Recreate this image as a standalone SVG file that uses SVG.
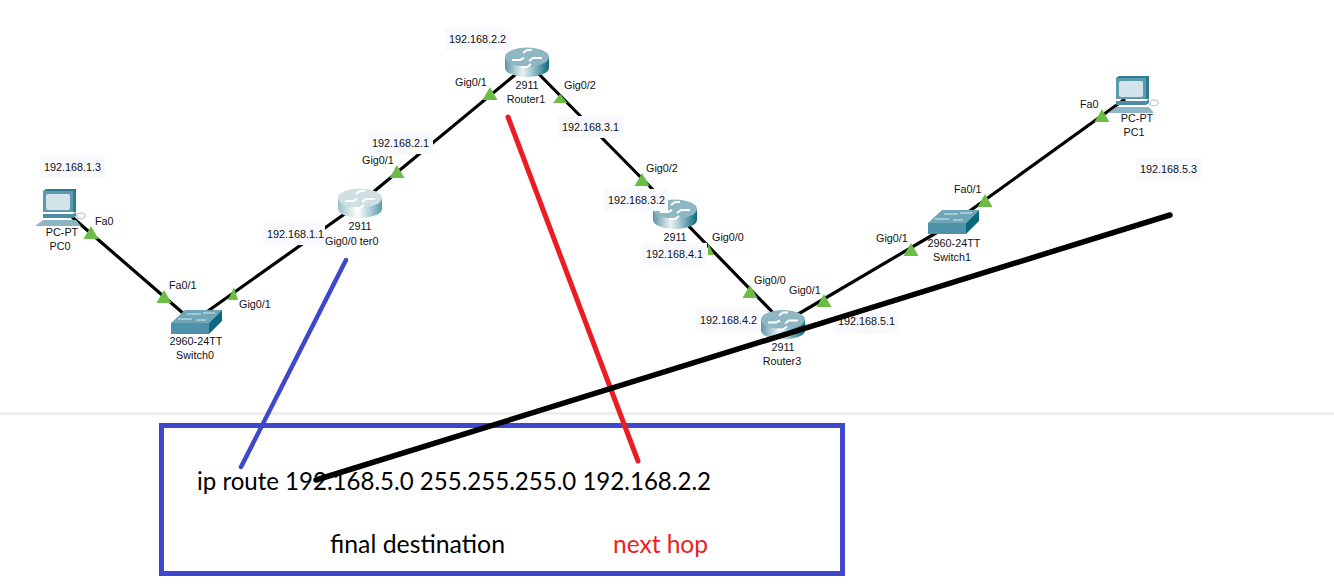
<svg xmlns="http://www.w3.org/2000/svg" xmlns:xlink="http://www.w3.org/1999/xlink" width="1334" height="584" viewBox="0 0 1334 584">
<style>
text{font-family:"Liberation Sans",Arial,sans-serif;font-size:10.8px;fill:#111}
.c{text-anchor:middle}
.link{stroke:#000;stroke-width:3.2;fill:none}
.lab{fill:#f8f8ff}
.big{font-family:Lato,"Open Sans",sans-serif;font-size:25.5px;fill:#000}
.note{fill:none;stroke-linecap:round}
</style>
<defs>
<linearGradient id="rg" x1="0" x2="1" y1="0" y2="0"><stop offset="0" stop-color="#5f96a6"/><stop offset=".4" stop-color="#e8f2f4"/><stop offset=".6" stop-color="#a8c8d2"/><stop offset="1" stop-color="#0c6a80"/></linearGradient>
<linearGradient id="rgl" x1="0" x2="1" y1="0" y2="0"><stop offset="0" stop-color="#9cc0ca"/><stop offset=".45" stop-color="#ffffff"/><stop offset="1" stop-color="#5c9cac"/></linearGradient>
<g id="arrows"><path d="M-15 -1h8l4 -2M15 -3h-9l-4 3M-4 -8l4 -3h5M4 3l-4 3h-6" fill="none" stroke="#fff" stroke-width="2"/></g>
<symbol id="router" overflow="visible"><path d="M-22 -5V6A22 9 0 0 0 22 6V-5Z" fill="url(#rg)"/><ellipse cx="0" cy="-5" rx="22" ry="9.5" fill="#8fb6c3"/><use href="#arrows" y="-1"/></symbol>
<symbol id="routerl" overflow="visible"><path d="M-22 -5V6A22 9 0 0 0 22 6V-5Z" fill="url(#rgl)"/><ellipse cx="0" cy="-5" rx="22" ry="9.5" fill="#cfdfe4"/><use href="#arrows" y="-1"/></symbol>
<symbol id="switch" overflow="visible"><path d="M-11 -13H26L13 0H-25Z" fill="#6ea6b8"/><path d="M-25 0H13V11H-25Z" fill="#4e92a9"/><path d="M13 0L26 -13V-2L13 11Z" fill="#0a6880"/><path d="M-9 -9h14M7 -10h12M-18 -4h14M0 -3h10" stroke="#dce9ee" stroke-width="1" fill="none"/></symbol>
<symbol id="pc" overflow="visible"><path d="M-17 -24L-14 -26H16V-3H-17Z" fill="#2f7c92"/><path d="M-17 -24H13V-3H-17Z" fill="#5d9aae"/><rect x="-14" y="-21" width="24" height="16" rx="2" fill="#d2e3ea"/><path d="M-17 -1H13L16 -3V1L13 3H-17Z" fill="#4c8ca2"/><path d="M-17 5H16L21 11H-25Z" fill="#8db6c4"/><path d="M17 0a4 3 0 0 1 8 2l-3 2-5 -1Z" fill="#fff" stroke="#7fb3c3" stroke-width=".8"/></symbol>
<symbol id="tri" overflow="visible"><path d="M0 -13L7.500 0H-7.500Z" fill="#6cbd45"/></symbol>
</defs>
<rect width="1334" height="584" fill="#fff"/>
<rect x="0" y="412" width="1334" height="3" fill="#eeeeee"/>
<g id="connectors">
<line class="link" x1="72" y1="217" x2="184" y2="314"/>
<line class="link" x1="208" y1="311" x2="360" y2="203"/>
<line class="link" x1="360" y1="203" x2="527" y2="65"/>
<line class="link" x1="527" y1="62" x2="675" y2="212"/>
<line class="link" x1="675" y1="212" x2="783" y2="323"/>
<line class="link" x1="783" y1="323" x2="953" y2="223"/>
<line class="link" x1="953" y1="223" x2="1125" y2="99"/>
</g>
<g id="link-lights">
<use href="#tri" x="91" y="239"/><use href="#tri" x="164" y="303"/>
<path d="M234 287L238 300H228Z" fill="#6cbd45"/>
<use href="#tri" x="397" y="178"/><use href="#tri" x="490" y="100"/>
<path d="M560 94L567.500 103H553Z" fill="#6cbd45"/>
<use href="#tri" x="642" y="186"/>
<path d="M708 243L714 255H708Z" fill="#6cbd45"/>
<use href="#tri" x="750" y="298"/><use href="#tri" x="824" y="307"/>
<use href="#tri" x="911" y="256"/><use href="#tri" x="985" y="207"/><use href="#tri" x="1102" y="122"/>
</g>
<g id="PC0"><use href="#pc" x="60" y="215"/><text class="c" x="62" y="236">PC-PT</text><text class="c" x="60" y="250">PC0</text></g>
<g id="Switch0"><use href="#switch" x="196" y="323"/><text class="c" x="196" y="345">2960-24TT</text><text class="c" x="195" y="359">Switch0</text></g>
<g id="Router0"><use href="#routerl" x="360" y="203"/><text class="c" x="360" y="230">2911</text><text x="325" y="245">Gig0/0 ter0</text></g>
<g id="Router1"><use href="#router" x="527" y="62"/><text class="c" x="527" y="89">2911</text><text class="c" x="526" y="103">Router1</text></g>
<g id="Router2"><use href="#router" x="675" y="214"/><text class="c" x="675" y="241">2911</text></g>
<g id="Router3"><use href="#router" x="783" y="324.500"/><text class="c" x="783" y="351">2911</text><text class="c" x="782" y="365">Router3</text></g>
<g id="Switch1"><use href="#switch" x="953" y="223"/><text class="c" x="954" y="247">2960-24TT</text><text class="c" x="952" y="261">Switch1</text></g>
<g id="PC1"><use href="#pc" x="1133" y="102"/><text class="c" x="1137" y="122">PC-PT</text><text class="c" x="1134" y="136">PC1</text></g>
<g id="port-labels">
<text x="95" y="225">Fa0</text><text x="169" y="289">Fa0/1</text><text x="239" y="308">Gig0/1</text>
<text x="362" y="164">Gig0/1</text><text x="455" y="86">Gig0/1</text><text x="564" y="89">Gig0/2</text>
<text x="646" y="172">Gig0/2</text><text x="712" y="241">Gig0/0</text><text x="754" y="284">Gig0/0</text>
<text x="789" y="294">Gig0/1</text><text x="876" y="242">Gig0/1</text><text x="954" y="193">Fa0/1</text><text x="1080" y="108">Fa0</text>
</g>
<g id="ip-labels">
<rect class="lab" x="40" y="156" width="65" height="22"/><text x="44" y="171">192.168.1.3</text>
<rect class="lab" x="263" y="223" width="62" height="22"/><text x="267" y="238">192.168.1.1</text>
<rect class="lab" x="368" y="132" width="65" height="22"/><text x="372" y="147">192.168.2.1</text>
<rect class="lab" x="445" y="28" width="65" height="22"/><text x="449" y="43">192.168.2.2</text>
<rect class="lab" x="558" y="116" width="65" height="22"/><text x="562" y="131">192.168.3.1</text>
<rect class="lab" x="604" y="189" width="64" height="22"/><text x="608" y="204">192.168.3.2</text>
<rect class="lab" x="642" y="243" width="65" height="22"/><text x="646" y="258">192.168.4.1</text>
<rect class="lab" x="696" y="309" width="65" height="22"/><text x="700" y="324">192.168.4.2</text>
<rect class="lab" x="834" y="311" width="65" height="22"/><text x="838" y="325">192.168.5.1</text>
<rect class="lab" x="1136" y="158" width="65" height="22"/><text x="1140" y="173">192.168.5.3</text>
</g>
<g id="route-box">
<rect x="161.500" y="425.500" width="681" height="148" fill="none" stroke="#3f48cc" stroke-width="5"/>
<text class="big" x="197" y="490" textLength="514" lengthAdjust="spacingAndGlyphs">ip route 192.168.5.0 255.255.255.0 192.168.2.2</text>
<text class="big" x="330" y="553" textLength="175" lengthAdjust="spacingAndGlyphs">final destination</text>
<text class="big" x="613" y="553" textLength="95" lengthAdjust="spacingAndGlyphs" style="fill:#ed1c24">next hop</text>
</g>
<g id="annotations">
<line class="note" x1="346" y1="260" x2="241" y2="467" stroke="#3f48cc" stroke-width="4.500"/>
<line class="note" x1="508" y1="117" x2="638" y2="461" stroke="#ed1c24" stroke-width="5"/>
<line class="note" x1="1170" y1="215" x2="316" y2="480" stroke="#000" stroke-width="5.500"/>
</g>
</svg>
